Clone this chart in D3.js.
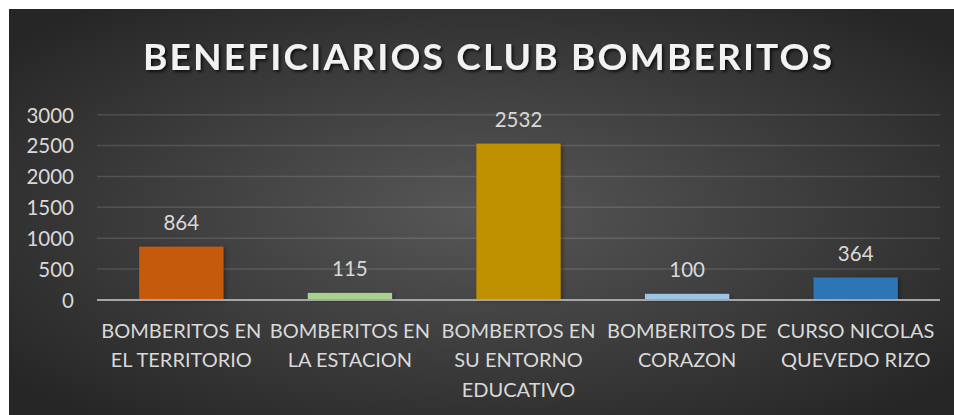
<!DOCTYPE html>
<html>
<head>
<meta charset="utf-8">
<script src="https://cdn.jsdelivr.net/npm/d3@7"></script>
<style>
  body { margin: 0; background: #fff; }
  text { font-family: Lato, "Open Sans", sans-serif; }
</style>
</head>
<body>
<div id="chart"></div>
<script>
var title = "BENEFICIARIOS CLUB BOMBERITOS";

var categories = [
  "BOMBERITOS EN\nEL TERRITORIO",
  "BOMBERITOS EN\nLA ESTACION",
  "BOMBERTOS EN\nSU ENTORNO\nEDUCATIVO",
  "BOMBERITOS DE\nCORAZON",
  "CURSO NICOLAS\nQUEVEDO RIZO"
];
var values = [864, 115, 2532, 100, 364];
var barColors = ["#c55a11", "#a9d18e", "#bf9000", "#9dc3e6", "#2e75b6"];
var yTicks = [0, 500, 1000, 1500, 2000, 2500, 3000];

var W = 954, H = 415;
var plot = { left: 97, right: 940, top: 114.7, bottom: 300 };

var svg = d3.select("#chart")
  .append("svg")
  .attr("width", W)
  .attr("height", H);

var defs = svg.append("defs");

// background gradient
var grad = defs.append("radialGradient")
  .attr("id", "bg")
  .attr("cx", "50%").attr("cy", "50%").attr("r", "65%");
grad.append("stop").attr("offset", "0%").attr("stop-color", "#575757");
grad.append("stop").attr("offset", "100%").attr("stop-color", "#262626");

var tShadow = defs.append("filter").attr("id", "tshadow")
  .attr("x", "-10%").attr("y", "-30%").attr("width", "120%").attr("height", "160%");
tShadow.append("feDropShadow")
  .attr("dx", 2).attr("dy", 2).attr("stdDeviation", 1.5)
  .attr("flood-color", "#000").attr("flood-opacity", 0.7);

var bShadow = defs.append("filter").attr("id", "bshadow")
  .attr("x", "-20%").attr("y", "-20%").attr("width", "140%").attr("height", "140%");
bShadow.append("feDropShadow")
  .attr("dx", 2).attr("dy", 1).attr("stdDeviation", 2)
  .attr("flood-color", "#000").attr("flood-opacity", 0.35);

svg.append("rect")
  .attr("x", 9).attr("y", 9)
  .attr("width", W - 9).attr("height", H - 9)
  .attr("fill", "url(#bg)");

// Title
svg.append("text")
  .attr("x", 143)
  .attr("y", 70)
  .attr("textLength", 689)
  .attr("lengthAdjust", "spacing")
  .attr("font-size", "37px")
  .attr("font-weight", 700)
  .attr("fill", "#f2f2f2")
  .attr("filter", "url(#tshadow)")
  .text(title);

var x = d3.scaleBand()
  .domain(categories)
  .range([plot.left, plot.right])
  .paddingInner(0.5)
  .paddingOuter(0.25);

var y = d3.scaleLinear()
  .domain([0, 3000])
  .range([plot.bottom, plot.top]);

// gridlines
svg.append("g")
  .selectAll("line")
  .data(yTicks.slice(1))
  .enter()
  .append("line")
  .attr("x1", plot.left)
  .attr("x2", plot.right)
  .attr("y1", function(d) { return y(d); })
  .attr("y2", function(d) { return y(d); })
  .attr("stroke", "rgba(255,255,255,0.13)")
  .attr("stroke-width", 1.5);

// y axis labels
var yAxis = svg.append("g")
  .attr("transform", "translate(" + plot.left + ",0)")
  .call(d3.axisLeft(y).tickValues(yTicks).tickFormat(d3.format("d")).tickSize(0).tickPadding(23));
yAxis.select(".domain").remove();
yAxis.selectAll("text")
  .attr("font-size", "20.5px")
  .attr("fill", "#d9d9d9")
  .attr("dy", "0.36em")
  .style("font-family", "Lato, sans-serif");

// bars
svg.append("g")
  .selectAll("rect")
  .data(values)
  .enter()
  .append("rect")
  .attr("x", function(d, i) { return x(categories[i]); })
  .attr("y", function(d) { return y(d); })
  .attr("width", x.bandwidth())
  .attr("height", function(d) { return y(0) - y(d); })
  .attr("fill", function(d, i) { return barColors[i]; })
  .attr("filter", "url(#bshadow)");

// x axis line
svg.append("line")
  .attr("x1", plot.left)
  .attr("x2", plot.right)
  .attr("y1", y(0))
  .attr("y2", y(0))
  .attr("stroke", "#a6a6a6")
  .attr("stroke-width", 2);

// data labels
svg.append("g")
  .selectAll("text")
  .data(values)
  .enter()
  .append("text")
  .attr("x", function(d, i) { return x(categories[i]) + x.bandwidth() / 2; })
  .attr("y", function(d) { return y(d) - 17; })
  .attr("text-anchor", "middle")
  .attr("font-size", "20.5px")
  .attr("fill", "#d9d9d9")
  .text(function(d) { return d; });

// category labels
var catLabels = svg.append("g")
  .selectAll("text")
  .data(categories)
  .enter()
  .append("text")
  .attr("x", function(d) { return x(d) + x.bandwidth() / 2; })
  .attr("y", 337.5)
  .attr("text-anchor", "middle")
  .attr("font-size", "20px")
  .attr("fill", "#d9d9d9");

catLabels.selectAll("tspan")
  .data(function(d) { return d.split("\n"); })
  .enter()
  .append("tspan")
  .attr("x", function() { var p = this.parentNode; return p.getAttribute("x"); })
  .attr("dy", function(d, i) { return i === 0 ? 0 : 29.5; })
  .text(function(d) { return d; });
</script>
</body>
</html>
